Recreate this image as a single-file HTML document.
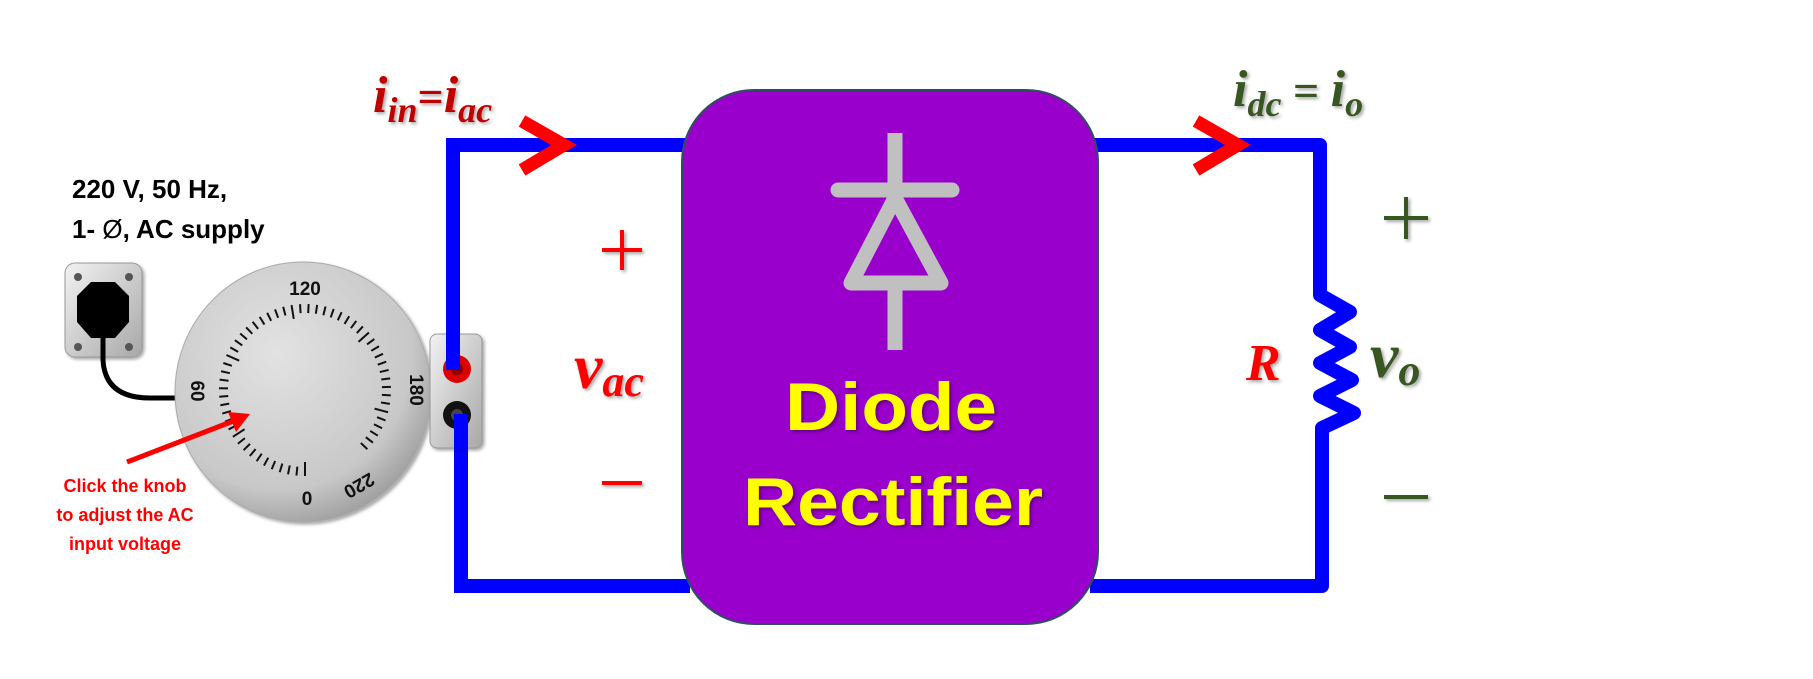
<!DOCTYPE html>
<html><head><meta charset="utf-8"><style>
html,body{margin:0;padding:0;background:#fff;}
svg{display:block;}
text{font-family:"Liberation Sans",sans-serif;}
.m{font-family:"Liberation Serif",serif;font-style:italic;font-weight:bold;}
</style></head><body>
<svg width="1813" height="679" viewBox="0 0 1813 679" xmlns="http://www.w3.org/2000/svg">
<defs>
<radialGradient id="dial" cx="40%" cy="35%" r="70%">
<stop offset="0" stop-color="#e2e2e2"/><stop offset="0.75" stop-color="#c8c8c8"/><stop offset="1" stop-color="#9a9a9a"/>
</radialGradient>
<linearGradient id="box" x1="0" y1="0" x2="1" y2="1">
<stop offset="0" stop-color="#f2f2f2"/><stop offset="1" stop-color="#a8a8a8"/>
</linearGradient>
<filter id="sh" x="-10%" y="-10%" width="130%" height="130%"><feDropShadow dx="2" dy="2" stdDeviation="1.5" flood-color="#000" flood-opacity="0.35"/></filter>
</defs>

<polyline points="453,336 453,145 690,145" fill="none" stroke="#0000ff" stroke-width="14"/>
<polyline points="461,412 461,586 690,586" fill="none" stroke="#0000ff" stroke-width="14"/>
<polyline points="1090,145 1320,145 1320,295 1350,312 1320,330 1350,347 1320,363 1352,380 1320,396 1354,413 1322,428 1322,586 1090,586" fill="none" stroke="#0000ff" stroke-width="14" stroke-linejoin="round"/>

<polyline points="522,121 564,145 522,170" fill="none" stroke="#ff0000" stroke-width="13"/>
<polyline points="1196,121 1238,145 1196,170" fill="none" stroke="#ff0000" stroke-width="13"/>

<rect x="682" y="90" width="416" height="534" rx="72" ry="72" fill="#9900cc" stroke="#2f4f5f" stroke-width="2"/>
<g stroke="#c0c0c0" stroke-width="15" fill="none" stroke-linecap="butt">
<line x1="895" y1="133" x2="895" y2="192"/>
<line x1="838" y1="190" x2="952" y2="190" stroke-linecap="round"/>
<polygon points="895,198 851,283 941,283" stroke-linejoin="round"/>
<line x1="895" y1="283" x2="895" y2="350"/>
</g>
<g filter="url(#sh)" font-weight="bold" fill="#ffff00" font-size="68">
<text x="891" y="430" text-anchor="middle" textLength="212" lengthAdjust="spacingAndGlyphs">Diode</text>
<text x="893" y="525" text-anchor="middle" textLength="300" lengthAdjust="spacingAndGlyphs">Rectifier</text>
</g>

<g filter="url(#sh)">
<text class="m" x="373" y="112" font-size="52" fill="#c00000">i<tspan font-size="36" dy="10">in</tspan><tspan dy="-10" font-size="46" font-style="normal">=</tspan>i<tspan font-size="36" dy="10">ac</tspan></text>
<text class="m" x="1233" y="106" font-size="52" fill="#375623">i<tspan font-size="36" dy="10">dc</tspan><tspan dy="-10" font-size="46" font-style="normal"> = </tspan>i<tspan font-size="36" dy="10">o</tspan></text>
<g stroke="#ff0000" stroke-width="4"><line x1="602" y1="250" x2="642" y2="250"/><line x1="622" y1="230" x2="622" y2="270"/><line x1="602" y1="483" x2="642" y2="483"/></g>
<text class="m" x="574" y="388" font-size="64" fill="#ff0000">v<tspan font-size="44" dy="8">ac</tspan></text>
<g stroke="#375623" stroke-width="4"><line x1="1384" y1="218" x2="1428" y2="218"/><line x1="1406" y1="197" x2="1406" y2="239"/><line x1="1384" y1="497" x2="1428" y2="497"/></g>
<text class="m" x="1246" y="380" font-size="52" fill="#ff0000">R</text>
<text class="m" x="1370" y="377" font-size="64" fill="#375623">v<tspan font-size="44" dy="8">o</tspan></text>
</g>

<text x="72" y="198" font-size="26" font-weight="bold" fill="#000">220 V, 50 Hz,</text>
<text x="72" y="238" font-size="26" font-weight="bold" fill="#000">1- <tspan font-weight="normal">Ø</tspan>, AC supply</text>

<rect x="65" y="263" width="77" height="94" rx="10" fill="url(#box)" stroke="#999" filter="url(#sh)"/>
<g fill="#555"><circle cx="78" cy="277" r="4"/><circle cx="129" cy="277" r="4"/><circle cx="78" cy="347" r="4"/><circle cx="129" cy="347" r="4"/></g>
<polygon points="91,282 115,282 129,296 129,322 115,338 91,338 77,322 77,296" fill="#000"/>
<path d="M103,338 L103,360 Q105,398 150,398 L180,398" fill="none" stroke="#000" stroke-width="5"/>

<ellipse cx="303" cy="392" rx="128" ry="130" fill="url(#dial)" stroke="#aaa" filter="url(#sh)"/>
<rect x="430" y="334" width="52" height="114" rx="7" fill="url(#box)" stroke="#999" filter="url(#sh)"/>
<circle cx="457" cy="369" r="14" fill="#dd0000"/><circle cx="457" cy="369" r="6" fill="#800"/>
<circle cx="457" cy="415" r="14" fill="#111"/><circle cx="457" cy="415" r="6" fill="#444"/>
<line x1="453" y1="330" x2="453" y2="370" stroke="#0000ff" stroke-width="14"/>
<line x1="461" y1="414" x2="461" y2="450" stroke="#0000ff" stroke-width="14"/>
<g id="ticks" stroke="#111" stroke-width="2">
</g>
<script>
(function(){var g=document.getElementById('ticks');var cx=305,cy=390,ns='http://www.w3.org/2000/svg';
for(var i=0;i<=55;i++){var a=(i*5.7)*Math.PI/180;
var ang=Math.PI/2+a;var ro=86,ri=(i%10==0)?72:77;
var l=document.createElementNS(ns,'line');
l.setAttribute('x1',cx+ro*Math.cos(ang));l.setAttribute('y1',cy+ro*Math.sin(ang));
l.setAttribute('x2',cx+ri*Math.cos(ang));l.setAttribute('y2',cy+ri*Math.sin(ang));g.appendChild(l);}})();
</script>
<g font-size="19" font-weight="bold" fill="#111" text-anchor="middle">
<text x="305" y="295">120</text>
<text x="307" y="505">0</text>
<text transform="translate(191,391) rotate(90)">60</text>
<text transform="translate(410,390) rotate(90)">180</text>
<text transform="translate(356,480) rotate(150)">220</text>
</g>

<line x1="127" y1="462" x2="236" y2="420" stroke="#ff0000" stroke-width="5"/>
<polygon points="250,414 228,412 236,432" fill="#ff0000"/>
<g font-size="18" font-weight="bold" fill="#ff0000" text-anchor="middle">
<text x="125" y="492">Click the knob</text>
<text x="125" y="521">to adjust the AC</text>
<text x="125" y="550">input voltage</text>
</g>
</svg>
</body></html>
